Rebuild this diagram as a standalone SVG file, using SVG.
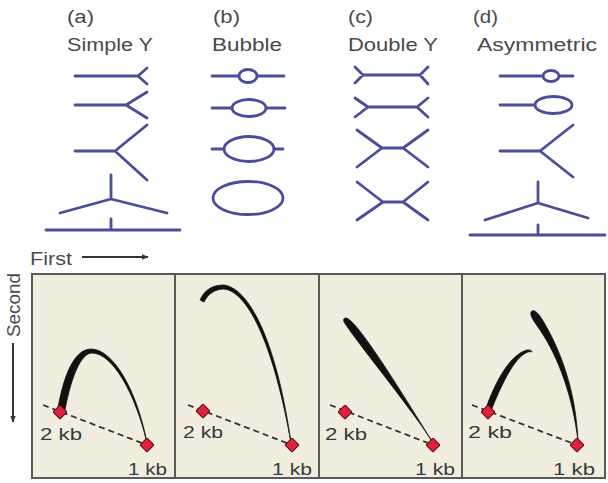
<svg xmlns="http://www.w3.org/2000/svg" width="608" height="483" viewBox="0 0 608 483">
<style>
.lbl{font-family:"Liberation Sans",Arial,sans-serif;fill:#4a4a4a;font-size:18px}
.kb{font-family:"Liberation Sans",Arial,sans-serif;fill:#3a3a3a;font-size:16px}
.g{fill:none;stroke:#4b4d9a;stroke-width:2.8;stroke-linecap:round;stroke-linejoin:round}
.panel{fill:#f1eee0;stroke:#5a5a5a;stroke-width:2}
.dash{fill:none;stroke:#333;stroke-width:1.8;stroke-dasharray:6 4}
.dia{fill:#e0203c;stroke:#5a1010;stroke-width:1}
.spot{fill:#111;stroke:#111;stroke-width:0.8;stroke-linejoin:round}
.ax{stroke:#333;stroke-width:2;fill:none}
</style>
<defs>
<marker id="ah" viewBox="0 0 10 10" refX="9" refY="5" markerWidth="7" markerHeight="7" orient="auto" markerUnits="userSpaceOnUse">
<path d="M0,1 L10,5 L0,9 z" fill="#333"/>
</marker>
<rect id="d" x="-5" y="-5" width="10" height="10" rx="1" transform="rotate(45)" class="dia"/>
</defs>
<rect width="608" height="483" fill="#fff"/>

<g id="simpleY">
<text class="lbl" x="67" y="23" textLength="27" lengthAdjust="spacingAndGlyphs">(a)</text>
<text class="lbl" x="67" y="51" textLength="86" lengthAdjust="spacingAndGlyphs">Simple Y</text>
<path class="g" d="M75,76 H138 M147,68 L138,76 L147,84"/>
<path class="g" d="M75,105 H126 M147,92 L126,105 L147,118"/>
<path class="g" d="M75,151 H115 M147,125 L115,151 L147,180"/>
<path class="g" d="M111,175 V199 M60,213 L111,199 L167,213 M46,230 H180 M111,219 V230"/>
</g>

<g id="bubble">
<text class="lbl" x="213" y="23" textLength="27" lengthAdjust="spacingAndGlyphs">(b)</text>
<text class="lbl" x="212" y="51" textLength="70" lengthAdjust="spacingAndGlyphs">Bubble</text>
<path class="g" d="M212,76 H239 M257,76 H284"/>
<ellipse class="g" cx="248" cy="76" rx="9" ry="6.5"/>
<path class="g" d="M212,108 H232 M266,108 H285"/>
<ellipse class="g" cx="249" cy="108" rx="17" ry="8.5"/>
<path class="g" d="M212,149 H224 M274,149 H283"/>
<ellipse class="g" cx="249" cy="149" rx="25" ry="12.5"/>
<ellipse class="g" cx="248" cy="198" rx="35" ry="16.5"/>
</g>

<g id="doubleY">
<text class="lbl" x="348" y="23" textLength="25" lengthAdjust="spacingAndGlyphs">(c)</text>
<text class="lbl" x="348" y="51" textLength="90" lengthAdjust="spacingAndGlyphs">Double Y</text>
<path class="g" d="M363,75 H420 M355,67 L363,75 L355,83 M428,67 L420,75 L428,84"/>
<path class="g" d="M368,107 H417 M355,98 L368,107 L355,117 M428,98 L417,107 L428,117"/>
<path class="g" d="M382,148 H403 M357,130 L382,148 L357,167 M428,130 L403,148 L428,167"/>
<path class="g" d="M383,202 H403 M357,182 L383,202 L357,220 M428,182 L403,202 L428,220"/>
</g>

<g id="asymmetric">
<text class="lbl" x="473" y="23" textLength="25" lengthAdjust="spacingAndGlyphs">(d)</text>
<text class="lbl" x="477" y="51" textLength="120" lengthAdjust="spacingAndGlyphs">Asymmetric</text>
<path class="g" d="M500,76 H543 M559,76 H573"/>
<ellipse class="g" cx="551" cy="76" rx="8" ry="5.5"/>
<path class="g" d="M500,105 H535"/>
<ellipse class="g" cx="553.5" cy="105" rx="18.5" ry="8.5"/>
<path class="g" d="M500,151 H540 M573,125 L540,151 L573,177"/>
<path class="g" d="M538,182 V203 M485,220 L538,203 L588,218 M470,235 H605 M538,225 V235"/>
</g>

<g id="axes">
<text class="lbl" x="30" y="265" textLength="42" lengthAdjust="spacingAndGlyphs" font-size="17">First</text>
<line class="ax" x1="82" y1="257" x2="148" y2="257" marker-end="url(#ah)"/>
<text class="lbl" transform="translate(20,305) rotate(-90)" text-anchor="middle" textLength="64" lengthAdjust="spacingAndGlyphs" font-size="17">Second</text>
<line class="ax" x1="13" y1="343" x2="13" y2="422" marker-end="url(#ah)"/>
</g>

<g id="panels">
<rect class="panel" x="32" y="274" width="573" height="204"/>
<line x1="175" y1="274" x2="175" y2="478" stroke="#5a5a5a" stroke-width="2"/>
<line x1="319" y1="274" x2="319" y2="478" stroke="#5a5a5a" stroke-width="2"/>
<line x1="462" y1="274" x2="462" y2="478" stroke="#5a5a5a" stroke-width="2"/>
</g>

<g id="panel1">
<path class="spot" d="M58,408 C65,368 77,349 91,349 C113,349 137,390 147,443 C135,392 112,353 92,353 C82,353 72,373 65,410 Z"/>
<line class="dash" x1="43" y1="405" x2="147" y2="445"/>
<use href="#d" x="60" y="412"/>
<use href="#d" x="147" y="445"/>
<text class="kb" x="40" y="440" textLength="42" lengthAdjust="spacingAndGlyphs">2 kb</text>
<text class="kb" x="128" y="475" textLength="39" lengthAdjust="spacingAndGlyphs">1 kb</text>
</g>

<g id="panel2">
<path class="spot" d="M200,300 C205,289 213,285 224,285 C252,289 278,350 291,443 C275,352 250,292 224,289 C215,289 208,294 204,302 Z"/>
<line class="dash" x1="188" y1="405" x2="292" y2="445"/>
<use href="#d" x="203" y="411"/>
<use href="#d" x="292" y="445"/>
<text class="kb" x="183" y="438" textLength="40" lengthAdjust="spacingAndGlyphs">2 kb</text>
<text class="kb" x="272" y="475" textLength="40" lengthAdjust="spacingAndGlyphs">1 kb</text>
</g>

<g id="panel3">
<path class="spot" d="M345,318 C351,317 368,337 433,443 C414,412 363,350 346,325 C343,321 343,319 345,318 Z"/>
<line class="dash" x1="330" y1="405" x2="433" y2="445"/>
<use href="#d" x="345" y="412"/>
<use href="#d" x="433" y="445"/>
<text class="kb" x="325" y="440" textLength="42" lengthAdjust="spacingAndGlyphs">2 kb</text>
<text class="kb" x="415" y="475" textLength="40" lengthAdjust="spacingAndGlyphs">1 kb</text>
</g>

<g id="panel4">
<path class="spot" d="M486,408 C495,383 508,358 524,351 C528,349 532,350 532,352 C530,351 527,352 524,354 C512,362 500,388 491,411 Z"/>
<path class="spot" d="M531,312 C534,308 539,313 546,326 C563,356 576,395 578,441 C573,398 559,358 540,330 C533,320 530,316 531,312 Z"/>
<line class="dash" x1="472" y1="405" x2="577" y2="445"/>
<use href="#d" x="488" y="412"/>
<use href="#d" x="577" y="445"/>
<text class="kb" x="468" y="438" textLength="44" lengthAdjust="spacingAndGlyphs">2 kb</text>
<text class="kb" x="553" y="475" textLength="42" lengthAdjust="spacingAndGlyphs">1 kb</text>
</g>
</svg>
